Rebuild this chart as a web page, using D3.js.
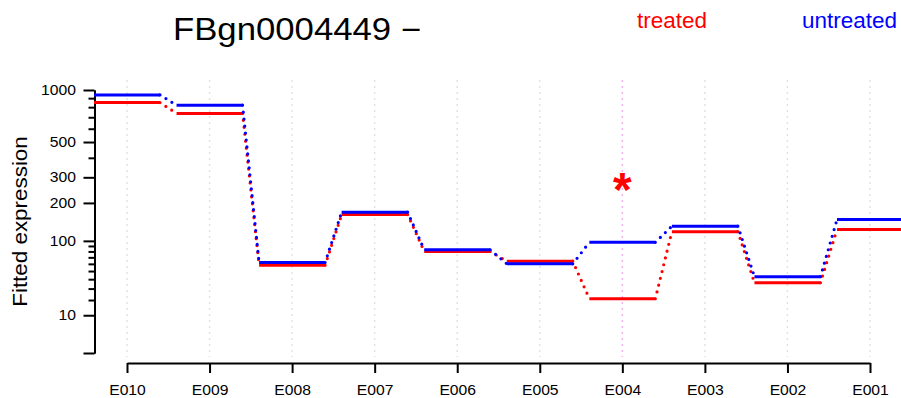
<!DOCTYPE html>
<meta charset="utf-8">
<style>
  body {
    margin: 0;
    background: white;
  }
  text {
    font-family: "Liberation Sans", Arial, sans-serif;
  }
  .axis path, .axis line {
    stroke: black;
    stroke-width: 2;
  }
  .axis text {
    font-size: 14px;
    fill: black;
  }
</style>
<body>
<div id="chart"></div>
<script src="https://d3js.org/d3.v7.min.js"></script>
<script>
  const geneName = "FBgn0004449 \u2212";
  const exons = ["E010", "E009", "E008", "E007", "E006", "E005", "E004", "E003", "E002", "E001"];
  const treated = [850, 737, 58, 164, 80, 64, 21, 120, 36, 125];
  const untreated = [939, 821, 62, 171, 83, 60, 97, 133, 43, 150];
  const significant = ["E004"];
  const majorTicks = [0, 10, 100, 200, 300, 500, 1000];
  const minorTicks = [20, 30, 40, 50, 60, 70, 80, 90, 400, 600, 700, 800, 900];
  const tickLabels = {10: "10", 100: "100", 200: "200", 300: "300", 500: "500", 1000: "1000"};

  const width = 901, height = 398;
  const halfWidth = 33;

  const svg = d3.select("#chart")
    .append("svg")
    .attr("width", width)
    .attr("height", height);

  // variance stabilising transform used for the expression axis
  const vst = v => Math.asinh(Math.sqrt(0.005 * v));

  const x = d3.scalePoint()
    .domain(exons)
    .range([127, 870]);

  const yT = d3.scaleLinear()
    .domain([vst(0), vst(1000)])
    .range([353, 90]);
  const y = v => yT(vst(v));

  // grid lines
  svg.append("g")
    .selectAll("line")
    .data(exons)
    .join("line")
    .attr("x1", d => x(d))
    .attr("x2", d => x(d))
    .attr("y1", 80)
    .attr("y2", 357)
    .attr("stroke", d => significant.includes(d) ? "#f5b0ee" : "#e2e2e2")
    .attr("stroke-width", 1.5)
    .attr("stroke-dasharray", "2,4");

  // axes
  svg.append("g")
    .attr("class", "axis")
    .attr("transform", "translate(94.5,0)")
    .call(d3.axisLeft(yT)
      .tickValues(minorTicks.map(vst))
      .tickSize(6)
      .tickSizeOuter(0)
      .tickFormat(""));

  svg.append("g")
    .attr("class", "axis")
    .attr("transform", "translate(94.5,0)")
    .call(d3.axisLeft(yT)
      .tickValues(majorTicks.map(vst))
      .tickSize(11)
      .tickSizeOuter(0)
      .tickPadding(7.5)
      .tickFormat((d, i) => tickLabels[majorTicks[i]] || ""))
    .selectAll("text").classed("stretch", true);

  svg.append("g")
    .attr("class", "axis")
    .attr("transform", "translate(0,363)")
    .call(d3.axisBottom(x)
      .tickSize(10)
      .tickSizeOuter(0)
      .tickPadding(12))
    .selectAll("text").classed("stretch", true);

  // series
  const series = [
    {name: "treated", color: "#ff0000", values: treated},
    {name: "untreated", color: "#0000ff", values: untreated}
  ];

  series.forEach(s => {
    const g = svg.append("g");
    const pts = exons.map((e, i) => ({e: e, v: s.values[i]}));

    g.selectAll("line.seg")
      .data(pts)
      .join("line")
      .attr("class", "seg")
      .attr("x1", d => x(d.e) - halfWidth)
      .attr("x2", d => x(d.e) + halfWidth)
      .attr("y1", d => y(d.v))
      .attr("y2", d => y(d.v))
      .attr("stroke", s.color)
      .attr("stroke-width", 3);

    g.selectAll("line.link")
      .data(pts.slice(1))
      .join("line")
      .attr("class", "link")
      .attr("x1", (d, i) => x(pts[i].e) + halfWidth)
      .attr("y1", (d, i) => y(pts[i].v))
      .attr("x2", d => x(d.e) - halfWidth)
      .attr("y2", d => y(d.v))
      .attr("stroke", s.color)
      .attr("stroke-width", 3.2)
      .attr("stroke-linecap", "round")
      .attr("stroke-dasharray", "0,7");
  });

  // significance mark
  svg.selectAll("text.star")
    .data(significant)
    .join("text")
    .attr("class", "star")
    .attr("x", d => x(d))
    .attr("y", 206)
    .attr("text-anchor", "middle")
    .attr("fill", "#ff0000")
    .style("font-size", "48px")
    .style("font-weight", "bold")
    .text("*");

  // title, legend, y label
  svg.append("text")
    .attr("class", "stretch")
    .attr("x", 173)
    .attr("y", 40)
    .style("font-size", "31px")
    .text(geneName);

  svg.append("text")
    .attr("x", 637)
    .attr("y", 28)
    .attr("fill", "#ff0000")
    .style("font-size", "22.5px")
    .text("treated");

  svg.append("text")
    .attr("x", 802)
    .attr("y", 28)
    .attr("fill", "#0000ff")
    .style("font-size", "22.5px")
    .text("untreated");

  svg.append("text")
    .attr("class", "stretch")
    .attr("transform", "translate(27,221.5) rotate(-90)")
    .attr("text-anchor", "middle")
    .style("font-size", "20px")
    .text("Fitted expression");

  svg.selectAll("text.stretch").each(function() {
    const w = this.getComputedTextLength();
    if (w > 0) {
      d3.select(this)
        .attr("textLength", w * 1.12)
        .attr("lengthAdjust", "spacingAndGlyphs");
    }
  });
</script>
</body>
</html>
